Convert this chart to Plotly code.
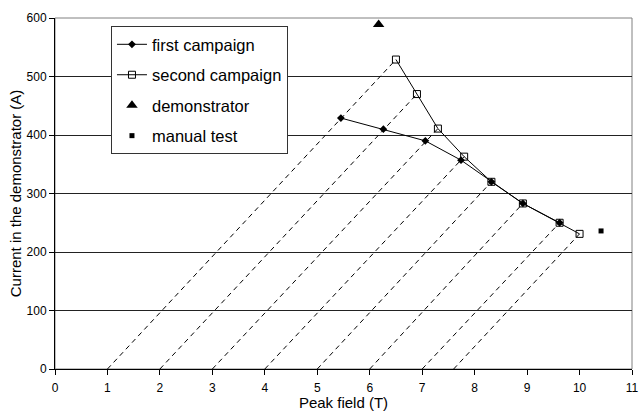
import plotly.graph_objects as go

# Data
first_x = [5.45, 6.26, 7.06, 7.74, 8.32, 8.92, 9.62]
first_y = [429, 410, 390, 357, 320, 283, 250]

second_x = [6.5, 6.9, 7.3, 7.8, 8.32, 8.92, 9.62, 10.0]
second_y = [529, 470, 411, 363, 320, 283, 250, 231]

demo_x = [6.17]
demo_y = [589]

manual_x = [10.41]
manual_y = [236]

# load lines: start on the field axis, end at second campaign points
load_start_x = [1, 2, 3, 4, 5, 6, 7.0, 7.6]

x_ticks = list(range(0, 12))
y_ticks = list(range(0, 700, 100))

FONT = "Liberation Sans, Arial, sans-serif"

lx, ly = [], []
for x0, x1, y1 in zip(load_start_x, second_x, second_y):
    lx += [x0, x1, None]
    ly += [0, y1, None]

fig = go.Figure()
fig.add_trace(go.Scatter(x=lx, y=ly, mode="lines", showlegend=False, hoverinfo="skip",
                         line=dict(color="black", width=1, dash="5px,4px")))
fig.add_trace(go.Scatter(x=first_x, y=first_y, mode="lines+markers", name="first campaign",
                         legendgroup="a",
                         line=dict(color="black", width=1),
                         marker=dict(symbol="diamond", size=6, color="black")))
fig.add_trace(go.Scatter(x=second_x, y=second_y, mode="lines+markers", name="second campaign",
                         legendgroup="b",
                         line=dict(color="black", width=1),
                         marker=dict(symbol="square-open", size=7, color="black",
                                     line=dict(width=1, color="black"))))
fig.add_trace(go.Scatter(x=demo_x, y=demo_y, mode="markers", name="demonstrator",
                         legendgroup="c",
                         marker=dict(symbol="triangle-up", size=10, color="black")))
fig.add_trace(go.Scatter(x=manual_x, y=manual_y, mode="markers", name="manual test",
                         legendgroup="d",
                         marker=dict(symbol="square", size=5, color="black")))

fig.update_layout(
    width=641, height=411,
    margin=dict(l=55, r=9, t=18, b=42),
    paper_bgcolor="white", plot_bgcolor="white",
    font=dict(family=FONT, size=12, color="black"),
    legend=dict(x=0.097, y=0.977, xanchor="left", yanchor="top",
                bgcolor="white", bordercolor="#333333", borderwidth=1,
                font=dict(family=FONT, size=16.5, color="black"),
                itemwidth=30,
                traceorder="grouped", tracegroupgap=6),
    xaxis=dict(range=[0, 11], tickvals=x_ticks, ticktext=[str(v) for v in x_ticks],
               showgrid=False, zeroline=False, showline=True, linecolor="black", linewidth=1,
               ticks="outside", ticklen=5, tickcolor="black", automargin=False,
               ticklabelstandoff=3,
               title=dict(text="Peak field (T)", font=dict(family=FONT, size=15), standoff=2),
               tickfont=dict(family=FONT, size=12)),
    yaxis=dict(range=[0, 600], tickvals=y_ticks, ticktext=[str(v) for v in y_ticks],
               showgrid=True, gridcolor="#222222", gridwidth=1, zeroline=False,
               showline=True, linecolor="black", linewidth=1,
               ticks="outside", ticklen=5, tickcolor="black", automargin=False,
               title=dict(text="Current in the demonstrator (A)", font=dict(family=FONT, size=15), standoff=1),
               tickfont=dict(family=FONT, size=12)),
    shapes=[dict(type="rect", xref="paper", yref="paper", x0=0, y0=0, x1=1, y1=1,
                 line=dict(color="#808080", width=1), layer="below")],
)

fig.write_html("out.html")
